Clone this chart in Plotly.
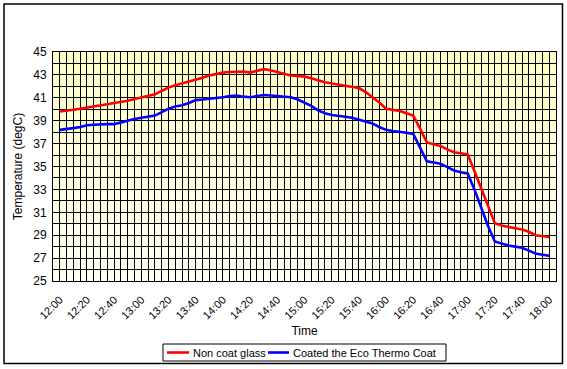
import plotly.graph_objects as go

times = [
    "12:00", "12:05", "12:10", "12:15", "12:20", "12:25", "12:30", "12:35", "12:40", "12:45", "12:50", "12:55",
    "13:00", "13:05", "13:10", "13:15", "13:20", "13:25", "13:30", "13:35", "13:40", "13:45", "13:50", "13:55",
    "14:00", "14:05", "14:10", "14:15", "14:20", "14:25", "14:30", "14:35", "14:40", "14:45", "14:50", "14:55",
    "15:00", "15:05", "15:10", "15:15", "15:20", "15:25", "15:30", "15:35", "15:40", "15:45", "15:50", "15:55",
    "16:00", "16:05", "16:10", "16:15", "16:20", "16:25", "16:30", "16:35", "16:40", "16:45", "16:50", "16:55",
    "17:00", "17:05", "17:10", "17:15", "17:20", "17:25", "17:30", "17:35", "17:40", "17:45", "17:50", "17:55",
    "18:00",
]

non_coat = [
    39.8, 39.85, 39.95, 40.05, 40.15, 40.25, 40.35, 40.45, 40.5, 40.6, 40.75, 40.9,
    41.05, 41.15, 41.3, 41.6, 41.9, 42.1, 42.25, 42.4, 42.55, 42.75, 42.95, 43.1,
    43.2, 43.25, 43.3, 43.3, 43.2, 43.35, 43.5, 43.4, 43.25, 43.1, 42.95, 42.9,
    42.85, 42.7, 42.5, 42.35, 42.25, 42.15, 42.05, 41.95, 41.85, 41.5, 41.05, 40.6,
    40.05, 39.95, 39.85, 39.65, 39.45, 38.3, 37.1, 36.95, 36.8, 36.5, 36.25, 36.15,
    36.05, 34.6, 33.1, 31.5, 30.05, 29.85, 29.7, 29.6, 29.5, 29.3, 29.0, 28.9,
    28.85,
]

eco_coat = [
    38.2, 38.25, 38.35, 38.45, 38.6, 38.65, 38.7, 38.7, 38.7, 38.85, 39.05, 39.15,
    39.25, 39.35, 39.45, 39.75, 40.05, 40.25, 40.35, 40.55, 40.8, 40.85, 40.9, 41.0,
    41.05, 41.15, 41.2, 41.1, 41.05, 41.15, 41.25, 41.2, 41.15, 41.1, 41.05, 40.85,
    40.6, 40.3, 39.9, 39.65, 39.5, 39.45, 39.35, 39.25, 39.1, 38.95, 38.75, 38.45,
    38.2, 38.1, 38.05, 37.95, 37.85, 36.7, 35.45, 35.35, 35.25, 34.95, 34.65, 34.5,
    34.4, 33.0, 31.4, 29.8, 28.45, 28.25, 28.1, 28.0, 27.9, 27.65, 27.4, 27.3,
    27.2,
]

x_tick_labels = ["12:00", "12:20", "12:40", "13:00", "13:20", "13:40", "14:00", "14:20", "14:40",
                 "15:00", "15:20", "15:40", "16:00", "16:20", "16:40", "17:00", "17:20", "17:40", "18:00"]
y_tick_values = list(range(25, 46))
y_tick_labels = [str(v) if v % 2 == 1 else "" for v in y_tick_values]

series_names = ["Non coat glass", "Coated the Eco Thermo Coat"]
series_colors = ["#FF0000", "#0000FF"]


def to_min(t):
    h, m = t.split(":")
    return (int(h) - 12) * 60 + int(m)


xs = [to_min(t) for t in times]
xt = [to_min(t) for t in x_tick_labels]

FONT = "Liberation Sans, Arial, sans-serif"
W, H = 567, 369
ML, MR, MT, MB = 53, 11, 52, 88
PW, PH = W - ML - MR, H - MT - MB


def px(x):  # pixel -> paper x
    return (x - ML) / PW


def py(y):  # pixel -> paper y
    return (H - MB - y) / PH


fig = go.Figure()
for name, vals, col in zip(series_names, [non_coat, eco_coat], series_colors):
    fig.add_trace(go.Scatter(x=xs, y=vals, mode="lines", name=name,
                             line=dict(color=col, width=2.6), showlegend=False))

# gradient plot background (light yellow top -> near white bottom)
n = 40
top = (255, 255, 200)
bot = (255, 255, 244)
for i in range(n):
    f = i / (n - 1)
    c = tuple(round(bot[k] + (top[k] - bot[k]) * f) for k in range(3))
    fig.add_shape(type="rect", xref="x domain", yref="y domain",
                  x0=0, x1=1, y0=i / n, y1=(i + 1) / n + 0.002,
                  fillcolor="rgb(%d,%d,%d)" % c, line=dict(width=0), layer="below")

# outer chart border
fig.add_shape(type="rect", xref="paper", yref="paper",
              x0=px(4), x1=px(562.5), y0=py(363.5), y1=py(4),
              line=dict(color="black", width=1.5), fillcolor="rgba(0,0,0,0)", layer="above")

# legend box (Excel style)
fig.add_shape(type="rect", xref="paper", yref="paper",
              x0=px(163), x1=px(446), y0=py(361), y1=py(344),
              line=dict(color="black", width=1), fillcolor="white", layer="above")
legend_items = [(167, 189, 191), (268, 289, 291)]
ly = 352.5
for (a, b, t), name, col in zip(legend_items, series_names, series_colors):
    fig.add_shape(type="line", xref="paper", yref="paper",
                  x0=px(a), x1=px(b), y0=py(ly), y1=py(ly),
                  line=dict(color=col, width=2.6), layer="above")
    fig.add_annotation(xref="paper", yref="paper", x=px(t), y=py(ly),
                       text=name, showarrow=False, xanchor="left", yanchor="middle",
                       font=dict(family=FONT, size=11, color="black"))

fig.update_layout(
    width=W, height=H,
    margin=dict(l=ML, r=MR, t=MT, b=MB),
    paper_bgcolor="white",
    plot_bgcolor="rgb(255,255,230)",
    font=dict(family=FONT, size=12, color="black"),
    showlegend=False,
    xaxis=dict(
        range=[-5, 365], tickmode="array", tickvals=xt, ticktext=x_tick_labels,
        tickangle=-45, tickfont=dict(family=FONT, size=11),
        showgrid=True, gridcolor="black", gridwidth=1,
        minor=dict(dtick=5, tick0=0, showgrid=True, gridcolor="black", gridwidth=1),
        showline=True, linecolor="black", linewidth=1, mirror=True,
        zeroline=False, ticks="outside", ticklen=7, tickcolor="rgba(0,0,0,0)",
        automargin=False,
        title=dict(text="Time", font=dict(family=FONT, size=12), standoff=6),
    ),
    yaxis=dict(
        range=[25, 45], tickmode="array", tickvals=y_tick_values, ticktext=y_tick_labels,
        tickfont=dict(family=FONT, size=12),
        showgrid=True, gridcolor="black", gridwidth=1,
        showline=True, linecolor="black", linewidth=1, mirror=True,
        zeroline=False, ticks="outside", ticklen=3, tickcolor="rgba(0,0,0,0)",
        automargin=False,
        title=dict(text="Temperature (degC)", font=dict(family=FONT, size=12), standoff=8),
    ),
)

fig.write_html(
    "out.html",
    config={"displayModeBar": False},
    post_script="document.body.style.margin='0';document.body.style.padding='0';"
                "document.body.style.overflow='hidden';",
)
